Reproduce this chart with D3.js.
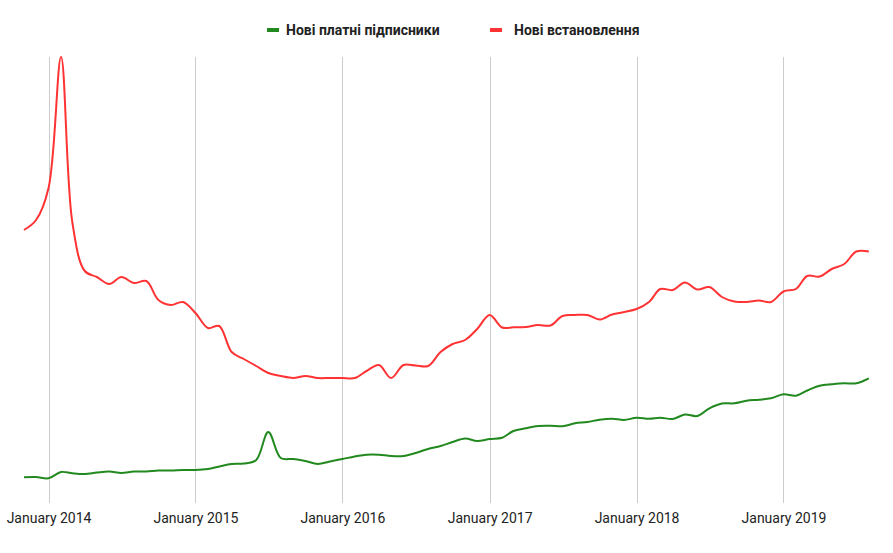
<!DOCTYPE html>
<html>
<head>
<meta charset="utf-8">
<script src="https://cdn.jsdelivr.net/npm/d3@7/dist/d3.min.js"></script>
<style>
  html, body { margin: 0; padding: 0; background: #fff; }
  svg { display: block; }
  text { font-family: Roboto, "Noto Sans", Arial, sans-serif; }
</style>
</head>
<body>
<div id="chart"></div>
<script>
// ---------- DATA ----------
const months = [
  "2013-11","2013-12",
  "2014-01","2014-02","2014-03","2014-04","2014-05","2014-06","2014-07","2014-08","2014-09","2014-10","2014-11","2014-12",
  "2015-01","2015-02","2015-03","2015-04","2015-05","2015-06","2015-07","2015-08","2015-09","2015-10","2015-11","2015-12",
  "2016-01","2016-02","2016-03","2016-04","2016-05","2016-06","2016-07","2016-08","2016-09","2016-10","2016-11","2016-12",
  "2017-01","2017-02","2017-03","2017-04","2017-05","2017-06","2017-07","2017-08","2017-09","2017-10","2017-11","2017-12",
  "2018-01","2018-02","2018-03","2018-04","2018-05","2018-06","2018-07","2018-08","2018-09","2018-10","2018-11","2018-12",
  "2019-01","2019-02","2019-03","2019-04","2019-05","2019-06","2019-07","2019-08"
];

const seriesNames = ["Нові платні підписники", "Нові встановлення"];

// New paid subscribers (relative units)
const paidSubscribers = [
  25.7, 26,
  24.7, 31, 29.7, 29, 30.5, 31.5, 30, 31.5, 31.5, 32.5, 32.5, 33,
  33, 34, 36.5, 39, 39.5, 43, 71, 45, 44, 42, 39, 41.5,
  44, 46.5, 48.3, 48.3, 47, 47, 50, 54, 57, 61, 64.5, 62,
  64, 65.3, 72, 74.7, 77, 77.3, 76.7, 79.7, 81, 83.3, 84.3, 83,
  85.3, 84.3, 85.3, 84, 88.5, 87, 94.7, 99.5, 99.7, 102.3, 103.3, 104.7,
  108.7, 107.3, 112.5, 117.3, 118.7, 119.7, 119.7, 124.7
];

// New installs (relative units)
const newInstalls = [
  273, 283,
  315, 446, 281, 232, 226, 219, 226, 220, 222, 203, 198, 201,
  190, 175, 177, 151, 144, 137, 130, 127, 125, 127, 125, 125,
  125, 125, 132, 138, 125, 138, 137.5, 137, 151, 159, 163, 174,
  188, 175.5, 175.7, 176, 178, 177.5, 187, 188, 188, 183.5, 188.5, 191,
  194, 201, 214, 213, 220.5, 213.5, 216, 206, 201.5, 201, 202.5, 201,
  211.5, 214, 227, 226.5, 234, 239, 251.5, 251.5
];

const tickLabels = ["January 2014","January 2015","January 2016","January 2017","January 2018","January 2019"];
const tickDates = ["2014-01","2015-01","2016-01","2017-01","2018-01","2019-01"];

const colors = ["#22891f", "#ff3333"];

// ---------- LAYOUT ----------
const W = 893, H = 553;
const plot = { left: 24, right: 868.8, top: 57, bottom: 503 };

const parse = d3.timeParse("%Y-%m");
const dates = months.map(parse);

const x = d3.scaleTime()
  .domain([dates[0], dates[dates.length - 1]])
  .range([plot.left, plot.right]);

const y = d3.scaleLinear()
  .domain([0, 446])
  .range([plot.bottom, plot.top]);

const svg = d3.select("#chart").append("svg")
  .attr("width", W).attr("height", H);

// gridlines + axis labels
const axis = d3.axisBottom(x)
  .tickValues(tickDates.map(parse))
  .tickFormat((d, i) => tickLabels[i])
  .tickSize(plot.bottom - plot.top)
  .tickPadding(0);

const gAxis = svg.append("g")
  .attr("transform", `translate(0,${plot.top})`)
  .call(axis);
gAxis.select(".domain").remove();
gAxis.selectAll(".tick line")
  .attr("stroke", "#cccccc")
  .attr("stroke-width", 1)
  .attr("shape-rendering", "crispEdges");
gAxis.selectAll(".tick text")
  .attr("y", 523 - plot.top)
  .attr("dy", null)
  .attr("fill", "#222222")
  .attr("font-size", "14px")
  .attr("font-family", "Roboto, sans-serif");

// lines
const series = [paidSubscribers, newInstalls];
const line = d3.line()
  .x((d, i) => x(dates[i]))
  .y(d => y(d))
  .curve(d3.curveCatmullRom.alpha(0.5));

series.forEach((vals, k) => {
  svg.append("path")
    .datum(vals)
    .attr("fill", "none")
    .attr("stroke", colors[k])
    .attr("stroke-width", 2)
    .attr("stroke-linejoin", "round")
    .attr("d", line);
});

// legend
const legend = svg.append("g");
const legendItems = [
  { name: seriesNames[0], color: colors[0], x: 267, tx: 286 },
  { name: seriesNames[1], color: colors[1], x: 490, tx: 514 }
];
legendItems.forEach(it => {
  legend.append("line")
    .attr("x1", it.x).attr("x2", it.x + 12)
    .attr("y1", 30).attr("y2", 30)
    .attr("stroke", it.color)
    .attr("stroke-width", 4);
  legend.append("text")
    .attr("x", it.tx)
    .attr("y", 35)
    .attr("font-size", "14px")
    .attr("font-weight", "bold")
    .attr("fill", "#222222")
    .text(it.name);
});
</script>
</body>
</html>
